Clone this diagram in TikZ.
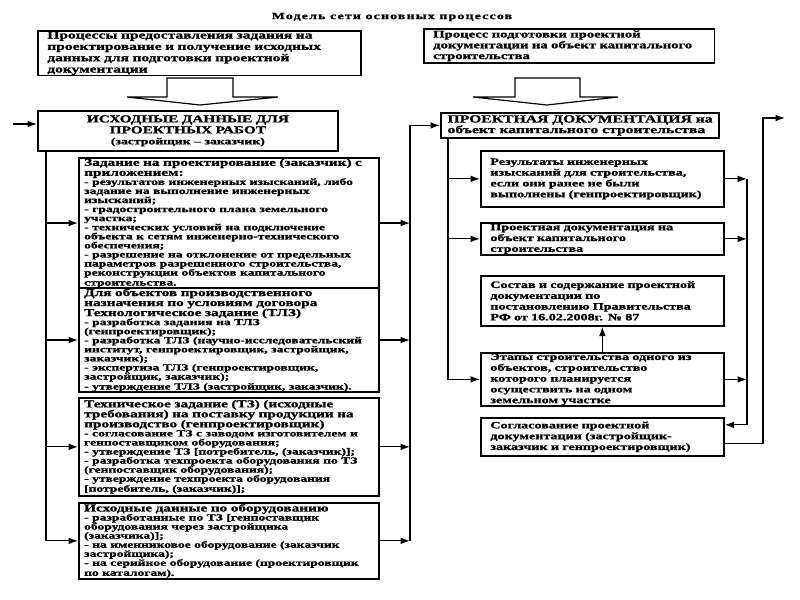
\documentclass[tikz,border=0pt]{standalone}
\usepackage{fontspec}
\setmainfont{Liberation Serif}[FakeStretch=1.45, BoldFeatures={FakeBold=1.3}]
\usepackage{tikz}
\usetikzlibrary{arrows.meta,positioning,calc}
\lineskiplimit=-10pt
\lineskip=0pt

\newcommand{\bighead}{\fontsize{8}{8.5}\selectfont\bfseries}
\newcommand{\midhead}{\fontsize{7.3}{8.1}\selectfont\bfseries}
\newcommand{\smallhead}{\fontsize{7.9}{7.5}\selectfont\bfseries}
\newcommand{\boxlist}{\fontsize{7}{6.8}\selectfont\bfseries}

\tikzset{
  frame/.style={draw, line width=1.3pt, anchor=north west, inner xsep=7pt, inner ysep=0.5pt, align=left, font=\midhead},
  leftframe/.style={frame, inner xsep=4pt, minimum width=225pt, text width=217pt, font=\smallhead},
  rightframe/.style={frame, minimum width=182.25pt, text width=168pt},
  link/.style={-{Latex[length=7pt,width=5pt]}, line width=0.9pt},
  fatarrow/.style={draw, line width=0.9pt, fill=white},
}

\begin{document}
\begin{tikzpicture}[x=0.75pt, y=-0.75pt]
\useasboundingbox (0,0) rectangle (800,600);

\node[font=\fontsize{7.2}{8}\selectfont\bfseries\addfontfeature{LetterSpace=12}] (title) at (392,17) {Модель сети основных процессов};

% upper process boxes
\node[frame, font=\bighead, minimum width=242.25pt, minimum height=31.5pt, text width=228pt] (procA) at (37,30)
  {Процессы предоставления задания на\\проектирование и получение исходных\\данных для подготовки проектной\\документации};
\node[frame, font=\fontsize{7.6}{8.1}\selectfont\bfseries, minimum width=217.5pt, minimum height=25.5pt, text width=204pt] (procD) at (423,28)
  {Процесс подготовки проектной\\документации на объект капитального\\строительства};

% block arrows
\draw[fatarrow] (167,78) -- (167,97) -- (127,97) -- (200,105) -- (278,97) -- (233,97) -- (233,78) -- cycle;
\draw[fatarrow] (515,78) -- (515,97) -- (473,97) -- (547,105) -- (618,97) -- (580,97) -- (580,78) -- cycle;

% left column
\node[frame, align=center, font=\fontsize{7.9}{8.25}\selectfont\bfseries, minimum width=225pt, minimum height=30pt, text width=211pt] (init) at (37,110)
  {ИСХОДНЫЕ ДАННЫЕ ДЛЯ\\ПРОЕКТНЫХ РАБОТ\\{\fontsize{7.1}{8.25}\selectfont (застройщик -- заказчик)}};

\node[leftframe, minimum height=95.25pt] (task) at (78,157)
  {Задание на проектирование (заказчик) с\\приложением:\par\boxlist
   - результатов инженерных изысканий, либо\\задание на выполнение инженерных\\изысканий;\\
   - градостроительного плана земельного\\участка;\\
   - технических условий на подключение\\объекта к сетям инженерно-технического\\обеспечения;\\
   - разрешение на отклонение от предельных\\параметров разрешенного строительства,\\реконструкции объектов капитального\\строительства.};
\node[leftframe, minimum height=77.25pt] (tlz) at (78,287)
  {Для объектов производственного\\назначения по условиям договора\\Технологическое задание (ТЛЗ)\par\boxlist
   - разработка задания на ТЛЗ\\(генпроектировщик);\\
   - разработка ТЛЗ (научно-исследовательский\\институт, генпроектировщик, застройщик,\\заказчик);\\
   - экспертиза ТЛЗ (генпроектировщик,\\застройщик, заказчик);\\
   - утверждение ТЛЗ (застройщик, заказчик).};
\node[leftframe, minimum height=73.5pt] (tz) at (78,397)
  {Техническое задание (ТЗ) (исходные\\требования) на поставку продукции на\\производство (генпроектировщик)\par\boxlist
   - согласование ТЗ с заводом изготовителем и\\генпоставщиком оборудования;\\
   - утверждение ТЗ [потребитель, (заказчик)];\\
   - разработка техпроекта оборудования по ТЗ\\(генпоставщик оборудования);\\
   - утверждение техпроекта оборудования\\{[}потребитель, (заказчик)];};
\node[leftframe, minimum height=57pt] (equip) at (78,502)
  {Исходные данные по оборудованию\par\boxlist
   - разработанные по ТЗ [генпоставщик\\оборудования через застройщика\\(заказчика)];\\
   - на именниковое оборудование (заказчик\\застройщика);\\
   - на серийное оборудование (проектировщик\\по каталогам).};

% right column
\node[frame, inner xsep=5pt, inner ysep=0pt, font=\fontsize{8.1}{8}\selectfont\bfseries, minimum width=197.25pt, minimum height=18.75pt] (docs) at (440,112)
  {ПРОЕКТНАЯ ДОКУМЕНТАЦИЯ на\\объект капитального строительства};
\node[rightframe, minimum height=42pt] (surv) at (480,150)
  {Результаты инженерных\\изысканий для строительства,\\если они ранее не были\\выполнены (генпроектировщик)};
\node[rightframe, minimum height=24pt] (pdoc) at (480,222)
  {Проектная документация на\\объект капитального\\строительства};
\node[rightframe, minimum height=37.5pt] (rule) at (480,275)
  {Состав и содержание проектной\\документации по\\постановлению Правительства\\РФ от 16.02.2008г. № 87};
\node[rightframe, minimum height=39pt] (stage) at (480,352)
  {Этапы строительства одного из\\объектов, строительство\\которого планируется\\осуществить на одном\\земельном участке};
\node[rightframe, minimum height=28.5pt] (agree) at (480,417)
  {Согласование проектной\\документации (застройщик-\\заказчик и генпроектировщик)};

% bus lines
\coordinate (lx) at (46,0);
\coordinate (mx) at (410,0);
\coordinate (ix) at (448,0);
\coordinate (rx) at (747,0);
\coordinate (inlet) at (13,124);
\coordinate (outlet) at (785,118);

\draw[link] (inlet) -- (inlet -| init.west);
\draw[link] (init.south -| lx) |- (equip.west);
\foreach \b in {task,tlz,tz}
  \draw[link] (\b.west -| lx) -- (\b.west);
\foreach \b in {task,tlz,tz,equip}
  \draw[link] (\b.east) -- (\b.east -| mx);
\draw[link] (equip.east -| mx) |- (docs.west);

\draw[link] (docs.south -| ix) |- (stage.west);
\foreach \b in {surv,pdoc}
  \draw[link] (\b.west -| ix) -- (\b.west);
\foreach \b in {surv,pdoc,stage}
  \draw[link] (\b.east) -- (\b.east -| rx);
\draw[link] (surv.east -| rx) |- ([yshift=9pt]agree.east);
\draw[link] (stage.north) -- (rule.south);
\draw[link] ([yshift=-5pt]agree.east) -| ([xshift=-16.5pt]outlet) -- (outlet);
\end{tikzpicture}
\end{document}
